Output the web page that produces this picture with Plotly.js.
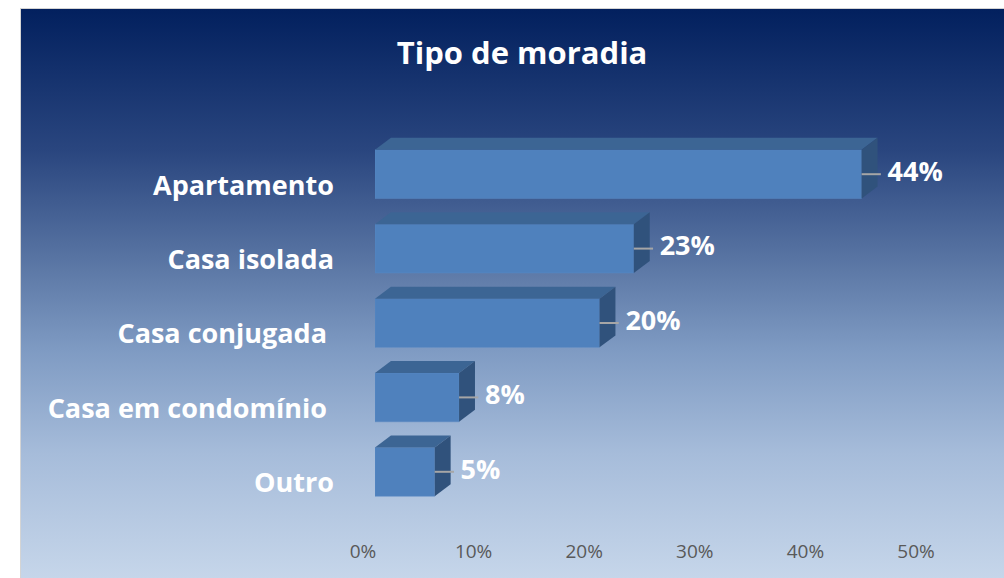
<!DOCTYPE html>
<html>
<head>
<meta charset="utf-8">
<script src="https://cdn.plot.ly/plotly-3.0.1.min.js"></script>
<style>
  body { margin: 0; background: #ffffff; }
  #bg {
    position: absolute; left: 20px; top: 8px; width: 984px; height: 570px;
    border-left: 1px solid #d4d4d4; border-top: 1px solid #d4d4d4;
    background: linear-gradient(to bottom, #02205e 0%, #2a467f 25%, #5b77a5 45%, #7f9bc3 60%, #a6bcda 78%, #c6d6ea 100%);
  }
  #myDiv { position: absolute; left: 0; top: 0; width: 1004px; height: 578px; }
</style>
</head>
<body>
<div id="bg"></div>
<div id="myDiv"></div>
<script>
// values (top to bottom)
var categories = ['Apartamento', 'Casa isolada', 'Casa conjugada\u00a0', 'Casa em condomínio\u00a0', 'Outro'];
var shares = [44.0, 23.4, 20.3, 7.6, 5.4];
var tickValues = [0, 10, 20, 30, 40, 50];
var tickLabels = ['0%', '10%', '20%', '30%', '40%', '50%'];

var idx = categories.map(function (c, i) { return i; });

// fake 3d depth, in axis units
var half = 0.3275;
var depthX = 1.44;
var depthY = 0.161;

var front = {
  type: 'bar',
  orientation: 'h',
  x: shares,
  y: idx,
  width: 0.655,
  marker: { color: '#4f81bd', line: { color: '#5a8ac4', width: 0.5 } },
  hoverinfo: 'skip'
};

var data = [front];

idx.forEach(function (i) {
  var v = shares[i];
  // top face
  data.push({
    type: 'scatter', mode: 'lines', fill: 'toself',
    x: [0, v, v + depthX, depthX, 0],
    y: [i - half, i - half, i - half - depthY, i - half - depthY, i - half],
    fillcolor: '#3c6594', line: { width: 0 }, hoverinfo: 'skip', cliponaxis: false
  });
  // side face
  data.push({
    type: 'scatter', mode: 'lines', fill: 'toself',
    x: [v, v + depthX, v + depthX, v, v],
    y: [i - half, i - half - depthY, i + half - depthY, i + half, i - half],
    fillcolor: '#30527c', line: { width: 0 }, hoverinfo: 'skip', cliponaxis: false
  });
  // leader line
  data.push({
    type: 'scatter', mode: 'lines',
    x: [v, v + depthX + 0.3],
    y: [i, i],
    line: { color: '#a6a6a6', width: 2 }, hoverinfo: 'skip', cliponaxis: false
  });
});

// data labels
data.push({
  type: 'scatter', mode: 'text',
  x: shares.map(function (v) { return v + depthX + 0.9; }),
  y: idx,
  text: shares.map(function (v) { return Math.round(v) + '%'; }),
  textposition: 'middle right',
  textfont: { family: 'Open Sans', size: 27, weight: 700, color: '#ffffff' },
  hoverinfo: 'skip', cliponaxis: false
});

var layout = {
  width: 1004,
  height: 578,
  showlegend: false,
  paper_bgcolor: 'rgba(0,0,0,0)',
  plot_bgcolor: 'rgba(0,0,0,0)',
  margin: { l: 375, r: 76, t: 137, b: 69 },
  title: {
    text: 'Tipo de moradia',
    font: { family: 'Open Sans', size: 31, weight: 700, color: '#ffffff' },
    x: 0.52, xanchor: 'center',
    y: 0.908, yanchor: 'middle'
  },
  xaxis: {
    range: [0, 50],
    tickvals: tickValues,
    ticktext: tickLabels,
    showgrid: false, zeroline: false, showline: false,
    ticklabelshift: -12,
    ticklabelstandoff: 29,
    tickfont: { family: 'Open Sans', size: 19, color: '#595959' }
  },
  yaxis: {
    range: [4.5, -0.5],
    tickvals: idx,
    ticktext: categories,
    showgrid: false, zeroline: false, showline: false,
    ticklabelshift: -11,
    ticklabelstandoff: 40,
    tickfont: { family: 'Open Sans', size: 27, weight: 700, color: '#ffffff' }
  }
};

Plotly.newPlot('myDiv', data, layout, { displayModeBar: false, staticPlot: true });
</script>
</body>
</html>
